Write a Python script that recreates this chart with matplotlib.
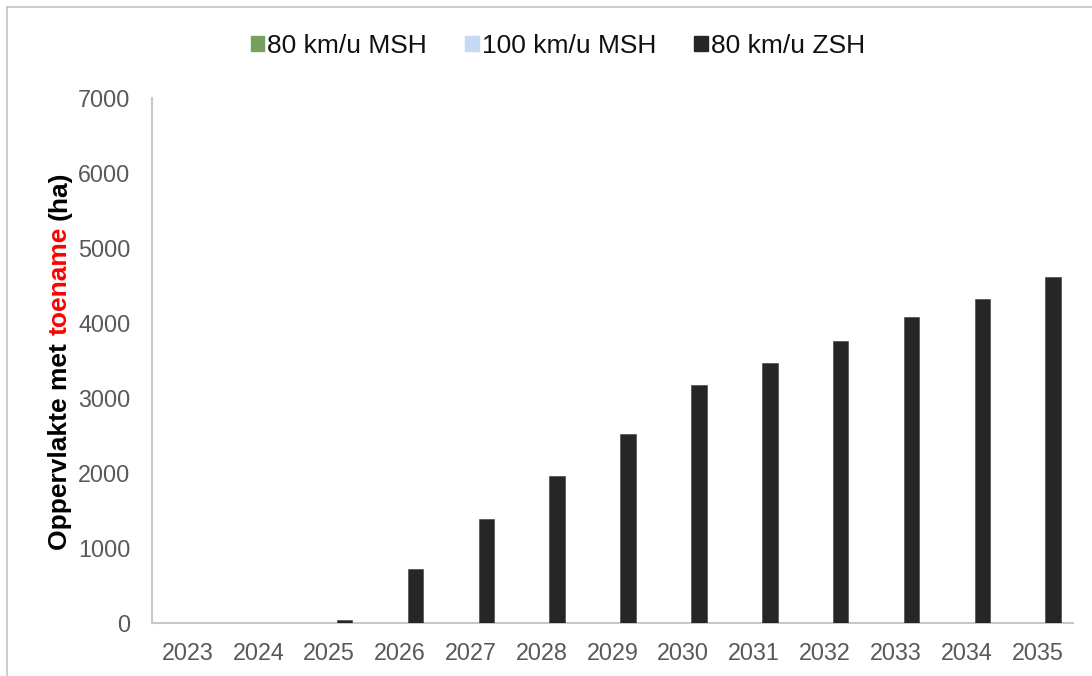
import matplotlib
matplotlib.use("Agg")
import matplotlib.pyplot as plt
import numpy as np
from matplotlib.patches import Patch
from matplotlib.lines import Line2D

# Data
years = ["2023", "2024", "2025", "2026", "2027", "2028", "2029",
         "2030", "2031", "2032", "2033", "2034", "2035"]
series_names = ["80 km/u MSH", "100 km/u MSH", "80 km/u ZSH"]
msh_80 = [0, 0, 0, 0, 0, 0, 0, 0, 0, 0, 0, 0, 0]
msh_100 = [0, 0, 0, 0, 0, 0, 0, 0, 0, 0, 0, 0, 0]
zsh_80 = [0, 0, 45, 720, 1390, 1955, 2520, 3170, 3465, 3755, 4075, 4315, 4615]
series_colors = ["#77A05E", "#C6D9F5", "#262626"]
y_ticks = [0, 1000, 2000, 3000, 4000, 5000, 6000, 7000]

W, H, DPI = 1092, 676, 100
plt.rcParams["font.family"] = ["Liberation Sans", "DejaVu Sans"]

fig = plt.figure(figsize=(W / DPI, H / DPI), dpi=DPI)
fig.patch.set_facecolor("white")

# Chart-area frame (left and top edges)
frame_c = "#BFBFBF"
fig.add_artist(Line2D([6.5 / W, 6.5 / W], [0, 1 - 7 / H], color=frame_c, lw=1.1,
                      transform=fig.transFigure))
fig.add_artist(Line2D([6.5 / W, 1], [1 - 7 / H, 1 - 7 / H], color=frame_c, lw=1.1,
                      transform=fig.transFigure))

ax_l, ax_r, ax_b, ax_t = 152, 1073, 623, 98
ax = fig.add_axes([ax_l / W, 1 - ax_b / H, (ax_r - ax_l) / W, (ax_b - ax_t) / H])

x = np.arange(len(years))
w = 0.22
for i, (vals, col) in enumerate(zip([msh_80, msh_100, zsh_80], series_colors)):
    ax.bar(x + (i - 1) * w, vals, width=w, color=col, edgecolor="#3a3a3a" if i == 2 else col,
           linewidth=0.4, zorder=3)

ax.set_xlim(-0.5, len(years) - 0.5)
ax.set_ylim(0, 7000)
ax.set_xticks(x)
ax.set_xticklabels(years)
ax.set_yticks(y_ticks)
ax.set_yticklabels([str(v) for v in y_ticks])
ax.tick_params(axis="both", length=0, labelsize=16.8, labelcolor="#595959")
ax.tick_params(axis="x", pad=14)
ax.tick_params(axis="y", pad=15.5)
for s in ["top", "right"]:
    ax.spines[s].set_visible(False)
for s in ["left", "bottom"]:
    ax.spines[s].set_color("#C8C8C8")
    ax.spines[s].set_linewidth(1.5)

# Legend
handles = [Patch(facecolor=c, edgecolor=c) for c in series_colors]
fig.legend(handles, series_names, loc="center", bbox_to_anchor=(558 / W, 1 - 46 / H),
           ncol=3, frameon=False, fontsize=19, handlelength=0.5, handleheight=0.5,
           handletextpad=0.12, columnspacing=1.45, labelcolor="#111111")

# Two-coloured, rotated y-axis label built from separate pieces
label_parts = [("Oppervlakte met", "black"), ("toename", "#FF0000"), ("(ha)", "black")]
lab_fs = 19
renderer = fig.canvas.get_renderer()


def text_len(s):
    t = fig.text(0, 0, s, fontsize=lab_fs, fontweight="bold")
    n = t.get_window_extent(renderer).width
    t.remove()
    return n


space = text_len("x x") - text_len("xx")
lengths = [text_len(p) for p, _ in label_parts]
total = sum(lengths) + space * (len(label_parts) - 1)
y_center = (ax_b + ax_t) / 2.0  # pixel rows from top
y_start = (H - y_center) - total / 2.0  # pixels from bottom
x_base = 66.5
pos = y_start
for (part, col), n in zip(label_parts, lengths):
    fig.text(x_base / W, pos / H, part, fontsize=lab_fs, fontweight="bold", color=col,
             rotation=90, rotation_mode="anchor", ha="left", va="baseline")
    pos += n + space

fig.savefig("out.png", dpi=DPI)
